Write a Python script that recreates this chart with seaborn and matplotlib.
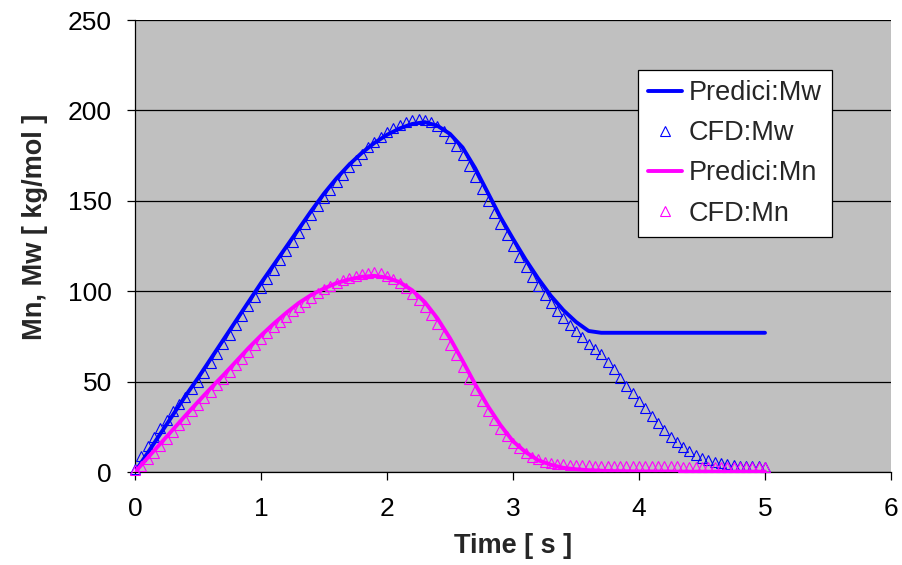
import numpy as np
import pandas as pd
import matplotlib
matplotlib.use("Agg")
import matplotlib.pyplot as plt
import seaborn as sns

# ---------------- data ----------------
# Predici model curves, sampled every 0.1 s from 0 to 5 s
t_predici = np.round(np.arange(51) * 0.1, 2)
predici_mw = [0, 10.5, 21, 31.5, 42, 52, 62.5, 73, 83.5, 94,
              104.5, 114.5, 124.5, 134.5, 144.5, 154, 162.5, 170, 176.5, 182,
              186.5, 190, 192.5, 193.5, 191.5, 187, 179.5, 168, 154.5, 141,
              129, 117.5, 107, 97.5, 89.5, 83, 78, 77, 77, 77,
              77, 77, 77, 77, 77, 77, 77, 77, 77, 77,
              77]
predici_mn = [0, 7.8, 15.6, 23.4, 31.2, 38.8, 46.3, 53.5, 61, 68.5,
              75.5, 82, 88, 93.5, 98, 101.5, 104.5, 106.5, 108, 108.5,
              107.5, 105, 100.5, 94, 85, 74, 61.5, 48.5, 36.5, 26,
              17, 11, 6.5, 4, 2.3, 1.5, 1.0, 0.7, 0.5, 0.4,
              0.3, 0.3, 0.3, 0.2, 0.2, 0.2, 0.2, 0.2, 0.2, 0.2,
              0.2]

# CFD results, sampled every 0.05 s from 0 to 5 s
t_cfd = np.round(np.arange(101) * 0.05, 2)
cfd_mw = [1.5, 9, 14.5, 19.5, 24.5, 29, 33.5, 37.5, 41.5, 46,
          50, 55, 60.5, 65.5, 71, 76, 81.5, 86.5, 92, 97,
          102, 107, 112, 117, 122, 127, 132, 137, 142, 147,
          151.5, 156, 160.5, 164.5, 168.5, 172.5, 176, 179.5, 182.5, 185.5,
          188, 190, 192, 193.5, 194.5, 195, 194.5, 193.5, 191.5, 188.5,
          185, 180.5, 175.5, 169.5, 163, 156.5, 150, 143.5, 137, 131,
          125, 119, 113.5, 108, 103, 98, 93.5, 89, 85, 81.5,
          78, 74.5, 71, 68, 65, 61, 57, 52, 47.5, 43.5,
          39.5, 35.5, 31, 27, 23, 19.5, 16.5, 14, 11.5, 9.5,
          8, 6.7, 5.5, 4.8, 4.2, 3.8, 3.5, 3.3, 3.2, 3.1,
          3]
cfd_mn = [1, 3.5, 7, 10.5, 14.5, 18.5, 22, 26, 29.5, 33.5,
          37, 41, 44.5, 48, 51.5, 55.5, 59, 62.5, 66.5, 70,
          73.5, 77, 80, 83, 86, 89, 91.5, 94, 96.5, 99,
          101, 103, 104.5, 106, 107.5, 108.5, 109.5, 110, 110.5, 110,
          108.5, 106.5, 104.5, 101.5, 98.5, 95, 91.5, 87, 82, 76.5,
          70.5, 64.5, 58, 51.5, 45.5, 39.5, 34, 29, 24, 20,
          16, 13, 10.5, 8.5, 7, 5.8, 5, 4.5, 4.2, 4,
          3.8, 3.7, 3.6, 3.5, 3.5, 3.4, 3.4, 3.3, 3.3, 3.3,
          3.2, 3.2, 3.2, 3.1, 3.1, 3.1, 3.1, 3, 3, 3,
          3, 3, 3, 3, 3, 3, 3, 3, 3, 3,
          3]

x_ticks = [0, 1, 2, 3, 4, 5, 6]
y_ticks = [0, 50, 100, 150, 200, 250]
x_label = "Time [ s ]"
y_label = "Mn, Mw [ kg/mol ]"

BLUE = "#0000FF"
MAGENTA = "#FF00FF"

# ---------------- style ----------------
sns.set_style("white")
plt.rcParams["font.family"] = ["Liberation Sans", "DejaVu Sans"]

fig = plt.figure(figsize=(9.02, 5.65), dpi=100)
ax = fig.add_axes([135 / 902, (565 - 472) / 565, (891 - 135) / 902, (472 - 20) / 565])
ax.set_facecolor("#C0C0C0")

line_kw = dict(linewidth=2.8, ax=ax)
mark_kw = dict(linestyle="none", marker="^", markersize=7.5, markerfacecolor="none",
               markeredgewidth=0.8, ax=ax, clip_on=False)

sns.lineplot(x=t_predici, y=predici_mw, color=BLUE, label="Predici:Mw", zorder=3, **line_kw)
sns.lineplot(x=t_cfd, y=cfd_mw, color=BLUE, markeredgecolor=BLUE, label="CFD:Mw", zorder=4, **mark_kw)
sns.lineplot(x=t_predici, y=predici_mn, color=MAGENTA, label="Predici:Mn", zorder=5, **line_kw)
sns.lineplot(x=t_cfd, y=cfd_mn, color=MAGENTA, markeredgecolor=MAGENTA, label="CFD:Mn", zorder=6, **mark_kw)

ax.set_xlim(0, 6)
ax.set_ylim(0, 250)
ax.set_xticks(x_ticks)
ax.set_yticks(y_ticks)
ax.set_xticklabels([str(v) for v in x_ticks])
ax.set_yticklabels([str(v) for v in y_ticks])

ax.yaxis.grid(True, color="black", linewidth=0.9)
ax.xaxis.grid(False)
ax.set_axisbelow(True)

for side in ["top", "right"]:
    ax.spines[side].set_visible(False)
for side in ["left", "bottom"]:
    ax.spines[side].set_color("black")
    ax.spines[side].set_linewidth(0.9)

ax.tick_params(axis="both", direction="out", length=5.5, width=0.9, colors="black",
               labelsize=19)
ax.tick_params(axis="x", pad=12.5, bottom=True)
ax.tick_params(axis="y", pad=11, left=True)

ax.set_xlabel(x_label, fontsize=19.5, fontweight="bold", va="center")
ax.set_ylabel(y_label, fontsize=19.5, fontweight="bold", va="center")
ax.xaxis.set_label_coords(0.5, (472 - 546) / 452)
ax.yaxis.set_label_coords((35 - 135) / 756, (472 - 227) / 452)

leg = ax.legend(loc="upper left", bbox_to_anchor=((638 - 135) / 756, (472 - 70) / 452),
                frameon=True, fancybox=False, shadow=False, framealpha=1,
                edgecolor="black", facecolor="white", fontsize=19.5,
                handlelength=1.25, handletextpad=0.25, labelspacing=0.52,
                borderpad=0.38, borderaxespad=0)
leg.get_frame().set_linewidth(0.9)

fig.savefig("out.png", dpi=100, facecolor="white")
